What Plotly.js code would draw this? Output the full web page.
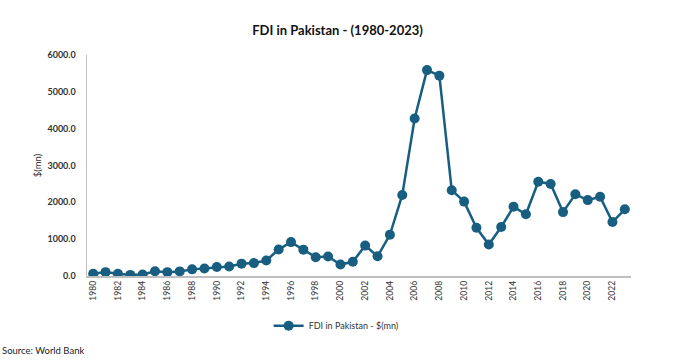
<!DOCTYPE html>
<html>
<head>
<meta charset="utf-8">
<script src="https://cdn.plot.ly/plotly-3.0.1.min.js"></script>
<style>html,body{margin:0;padding:0;background:#fff;}#chart{width:675px;height:362px;}</style>
</head>
<body>
<div id="chart"></div>
<script>
var years = [1980,1981,1982,1983,1984,1985,1986,1987,1988,1989,1990,1991,1992,1993,1994,1995,1996,1997,1998,1999,2000,2001,2002,2003,2004,2005,2006,2007,2008,2009,2010,2011,2012,2013,2014,2015,2016,2017,2018,2019,2020,2021,2022,2023];
var fdi = [60,105,60,30,40,130,105,125,180,205,245,260,335,350,420,720,920,715,510,530,310,385,825,535,1120,2200,4275,5590,5440,2330,2020,1310,855,1330,1880,1675,2560,2500,1735,2220,2060,2150,1465,1810];
var tickYears = [1980,1982,1984,1986,1988,1990,1992,1994,1996,1998,2000,2002,2004,2006,2008,2010,2012,2014,2016,2018,2020,2022];
var yTicks = [0,1000,2000,3000,4000,5000,6000];
var seriesName = 'FDI in Pakistan - $(mn)';
var color = '#175E81';

var trace = {
  x: years, y: fdi, type: 'scatter', mode: 'lines+markers', name: seriesName,
  line: {color: color, width: 2.5},
  marker: {color: color, size: 10}
};
var layout = {
  width: 675, height: 362,
  margin: {l: 87, r: 44, t: 55, b: 86},
  paper_bgcolor: '#fff', plot_bgcolor: '#fff',
  font: {family: 'Lato, "Open Sans", sans-serif', color: '#262626'},
  title: {text: '<b>FDI in Pakistan - (1980-2023)</b>', x: 0.5, xref: 'container', xanchor: 'center', y: 0.915, yanchor: 'middle', font: {size: 13, color: '#111', family: 'Lato, sans-serif'}},
  xaxis: {
    range: [1979.5, 2023.5], tickvals: tickYears, ticktext: tickYears.map(String),
    tickangle: -90, tickfont: {size: 8.5, color: '#333'},
    showgrid: false, zeroline: false, showline: true, linecolor: '#BFBFBF', linewidth: 1.5,
    ticks: '', fixedrange: true
  },
  yaxis: {
    range: [0, 6000], tickvals: yTicks, ticktext: yTicks.map(function(v){return v.toFixed(1);}),
    tickfont: {size: 9, color: '#333', family: 'Lato, sans-serif', weight: 'bold'},
    showgrid: false, zeroline: false, showline: true, linecolor: '#BFBFBF', linewidth: 1.5,
    ticks: 'outside', ticklen: 8, tickcolor: 'rgba(0,0,0,0)',
    title: {text: '$(mn)', font: {size: 9.5, color: '#333'}, standoff: 4}
  },
  showlegend: true,
  legend: {orientation: 'h', x: 0.458, xanchor: 'center', y: -0.225, yanchor: 'middle', font: {size: 9, color: '#333'}, itemwidth: 30},
  annotations: [{
    text: 'Source: World Bank', xref: 'paper', yref: 'paper', x: -87/544, y: -74/221,
    xanchor: 'left', yanchor: 'middle', showarrow: false, font: {size: 9.5, color: '#222'}
  }]
};
Plotly.newPlot('chart', [trace], layout, {displayModeBar: false, staticPlot: true});
</script>
</body>
</html>
